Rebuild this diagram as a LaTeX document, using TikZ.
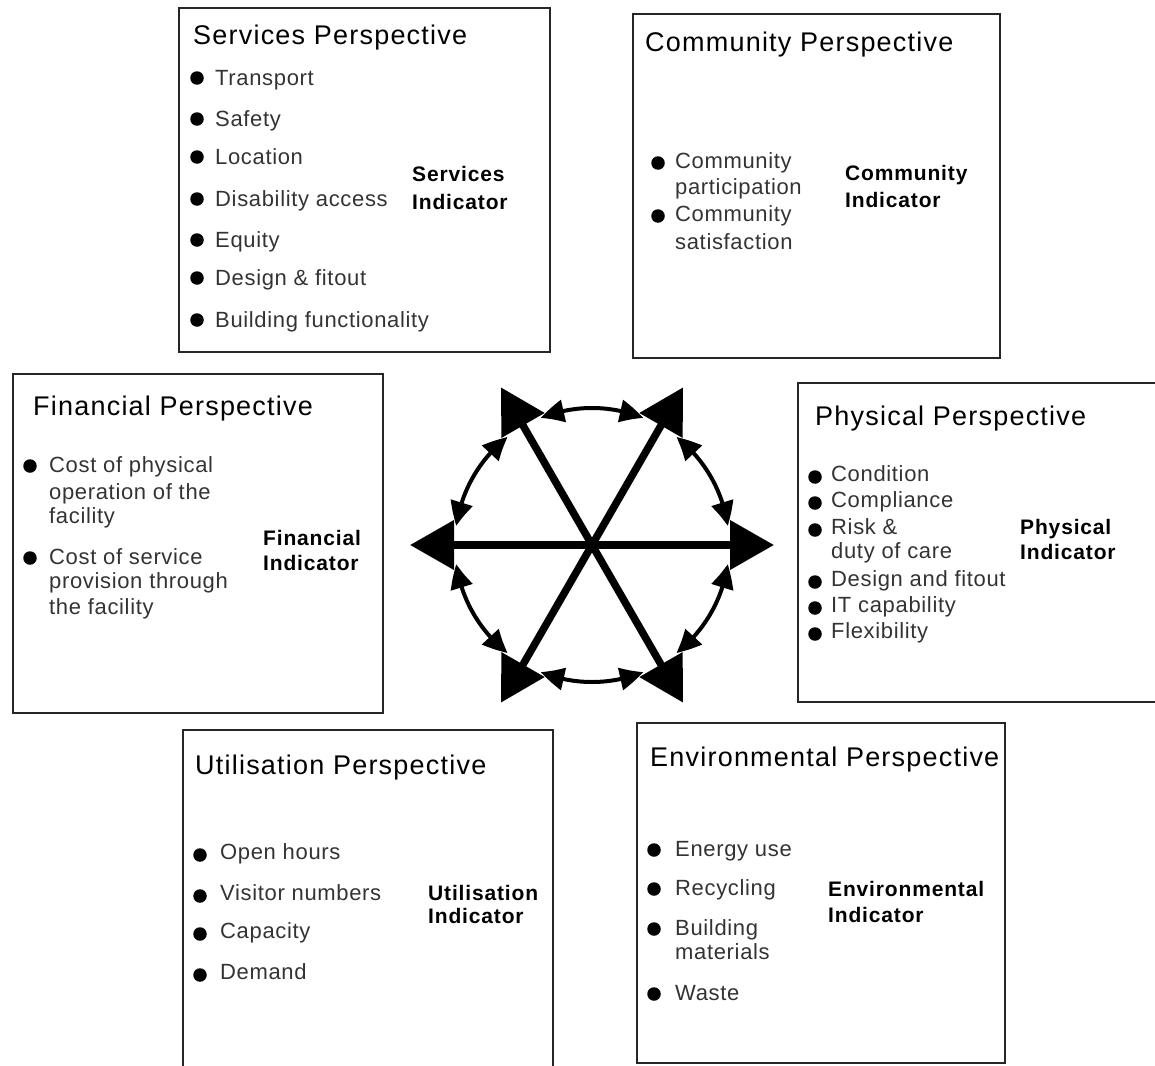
\documentclass[tikz,border=0pt]{standalone}
\usepackage{fontspec}
\setmainfont{Liberation Sans}
\newfontfamily\ttlfont[LetterSpace=4.5]{Liberation Sans}
\newfontfamily\itmfont[LetterSpace=3]{Liberation Sans}
\newfontfamily\indfont[LetterSpace=4]{Liberation Sans}
\usetikzlibrary{arrows.meta,bending,calc}
\begin{document}
\begin{tikzpicture}[x=1pt,y=-1pt,
  box/.style={draw=black!85, line width=1.3pt},
  ttl/.style={anchor=west, font=\ttlfont\fontsize{27}{30}\selectfont, inner sep=0pt, text height=19.4pt, text depth=0pt},
  itm/.style={anchor=west, font=\itmfont\fontsize{22}{26}\selectfont, text=black!80, inner sep=0pt, text height=15.8pt, text depth=0pt},
  ind/.style={anchor=west, font=\indfont\fontsize{21}{24}\selectfont\bfseries, inner sep=0pt, text height=15.1pt, text depth=0pt},
  bul/.style={circle, fill=black, inner sep=0pt, minimum size=13.5pt},
  spoke/.style={line width=7.5pt, {Triangle[length=44pt,width=48pt]}-{Triangle[length=44pt,width=48pt]}},
  link/.style={line width=4pt, {Triangle[length=24pt,width=22pt,bend]}-{Triangle[length=24pt,width=22pt,bend]}}
]
\useasboundingbox (0,0) rectangle (1155,1065);
\clip (0,0) rectangle (1155,1065);

% ---------- Services ----------
\draw[box] (179,8) rectangle (550,352);
\node[ttl] (sT) at (193,35) {Services Perspective};
\foreach \t/\y [count=\i] in {Transport/78, Safety/119, Location/157, Disability access/199, Equity/240, Design \& fitout/278, Building functionality/320}{
  \node[bul] (sb\i) at (197,\y) {};
  \node[itm] (si\i) at (215,\y) {\t};
}
\node[ind] (sI1) at (412,174) {Services};
\node[ind] (sI2) at (412,202) {Indicator};

% ---------- Community ----------
\draw[box] (633,14) rectangle (1000,358);
\node[ttl] (cT) at (645,42) {Community Perspective};
\node[bul] (cb1) at (658,163) {};
\node[itm] (ci1) at (675,161) {Community};
\node[itm] (ci2) at (675,187) {participation};
\node[bul] (cb2) at (658,216) {};
\node[itm] (ci3) at (675,214) {Community};
\node[itm] (ci4) at (675,242) {satisfaction};
\node[ind] (cI1) at (845,173) {Community};
\node[ind] (cI2) at (845,200) {Indicator};

% ---------- Financial ----------
\draw[box] (13,374) rectangle (383,713);
\node[ttl] (fT) at (33,406) {Financial Perspective};
\node[bul] (fb1) at (30,466) {};
\node[itm] (fi1) at (49,465) {Cost of physical};
\node[itm] (fi2) at (49,492) {operation of the};
\node[itm] (fi3) at (49,516) {facility};
\node[bul] (fb2) at (30,558) {};
\node[itm] (fi4) at (49,557) {Cost of service};
\node[itm] (fi5) at (49,581) {provision through};
\node[itm] (fi6) at (49,607) {the facility};
\node[ind] (fI1) at (263,538) {Financial};
\node[ind] (fI2) at (263,563) {Indicator};

% ---------- Physical ----------
\draw[box] (798,383) rectangle (1162,702);
\node[ttl] (pT) at (815,416) {Physical Perspective};
\foreach \y [count=\i] in {474,500,527,579,605,631}{
  \node[bul] (pb\i) at (815,\y+3) {};
}
\node[itm] (pi1) at (831,474) {Condition};
\node[itm] (pi2) at (831,500) {Compliance};
\node[itm] (pi3) at (831,527) {Risk \&};
\node[itm] (pi4) at (831,551) {duty of care};
\node[itm] (pi5) at (831,579) {Design and fitout};
\node[itm] (pi6) at (831,605) {IT capability};
\node[itm] (pi7) at (831,631) {Flexibility};
\node[ind] (pI1) at (1020,527) {Physical};
\node[ind] (pI2) at (1020,552) {Indicator};

% ---------- Utilisation ----------
\draw[box] (183,730) rectangle (553,1080);
\node[ttl] (uT) at (195,765) {Utilisation Perspective};
\foreach \t/\y [count=\i] in {Open hours/852, Visitor numbers/893, Capacity/931, Demand/972}{
  \node[bul] (ub\i) at (200,\y+3) {};
  \node[itm] (ui\i) at (220,\y) {\t};
}
\node[ind] (uI1) at (428,893) {Utilisation};
\node[ind] (uI2) at (428,916) {Indicator};

% ---------- Environmental ----------
\draw[box] (637,723) rectangle (1005,1063);
\node[ttl] (eT) at (650,757) {Environmental Perspective};
\node[bul] (eb1) at (654,850) {};
\node[itm] (ei1) at (675,849) {Energy use};
\node[bul] (eb2) at (654,889) {};
\node[itm] (ei2) at (675,888) {Recycling};
\node[bul] (eb3) at (654,929) {};
\node[itm] (ei3) at (675,928) {Building};
\node[itm] (ei4) at (675,952) {materials};
\node[bul] (eb4) at (654,994) {};
\node[itm] (ei5) at (675,993) {Waste};
\node[ind] (eI1) at (828,889) {Environmental};
\node[ind] (eI2) at (828,915) {Indicator};

% ---------- Central star ----------
\coordinate (c) at (592,545);
\foreach \a in {0,60,120,180,240,300}{
  \coordinate (t\a) at ($(c)+(\a:182)$);
}
\draw[spoke] (t180) -- (t0);
\draw[spoke] (t120) -- (t300);
\draw[spoke] (t60) -- (t240);
\foreach \m in {30,90,150,210,270,330}{
  \coordinate (a\m) at ($(c)+(\m+22:137)$);
  \draw[link] (a\m) arc[start angle=\m+22, end angle=\m-22, radius=137];
}
\end{tikzpicture}
\end{document}
